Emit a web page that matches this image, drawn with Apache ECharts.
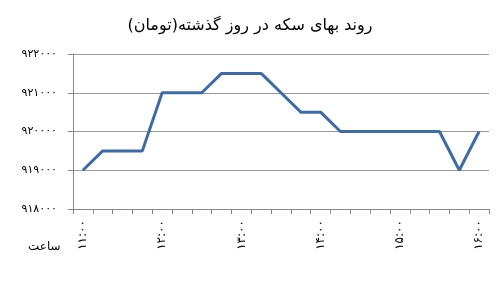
<!DOCTYPE html>
<html><head><meta charset="utf-8">
<script src="https://cdn.jsdelivr.net/npm/echarts@6/dist/echarts.min.js"></script>
<style>html,body{margin:0;padding:0;background:#fff}#c{width:500px;height:296px}</style>
</head><body><div id="c"></div>
<script>
var titleText = 'روند بهای سکه در روز گذشته(تومان)';
var xAxisName = 'ساعت';
var categories = ['11:00','11:15','11:30','11:45','12:00','12:15','12:30','12:45','13:00','13:15','13:30','13:45','14:00','14:15','14:30','14:45','15:00','15:15','15:30','15:45','16:00'];
var prices = [919000,919500,919500,919500,921000,921000,921000,921500,921500,921500,921000,920500,920500,920000,920000,920000,920000,920000,920000,919000,920000];
var yMin = 918000, yMax = 922000, yStep = 1000;

function fa(s){ return String(s).replace(/[0-9]/g, function(d){ return '۰۱۲۳۴۵۶۷۸۹'[+d]; }); }

var chart = echarts.init(document.getElementById('c'));
chart.setOption({
  animation:false,
  title:{text:titleText,left:'center',top:13,textStyle:{fontFamily:'DejaVu Sans',fontSize:16,fontWeight:'normal',color:'#000'}},
  grid:{left:73,right:11,top:54,bottom:87},
  xAxis:{type:'category',data:categories,boundaryGap:true,
    axisLine:{lineStyle:{color:'#888',width:1}},
    axisTick:{show:true,interval:0,length:5,lineStyle:{color:'#888'}},
    axisLabel:{interval:3,rotate:90,margin:11,fontSize:12,color:'#000',fontFamily:'DejaVu Sans',formatter:function(v){return fa(v);}}
  },
  yAxis:{type:'value',min:yMin,max:yMax,interval:yStep,
    axisLine:{show:true,lineStyle:{color:'#888',width:1}},
    axisTick:{show:true,length:5,lineStyle:{color:'#888'}},
    splitLine:{lineStyle:{color:'#999',width:1}},
    axisLabel:{fontSize:11,color:'#000',margin:16,fontFamily:'DejaVu Sans',formatter:function(v){return fa(v);}}
  },
  graphic:[{type:'text',left:28,top:241,style:{text:xAxisName,font:'12px "DejaVu Sans"',fill:'#000'}}],
  series:[{type:'line',data:prices,symbol:'none',lineStyle:{color:'#3D6BA8',width:3}}]
});
</script></body></html>
